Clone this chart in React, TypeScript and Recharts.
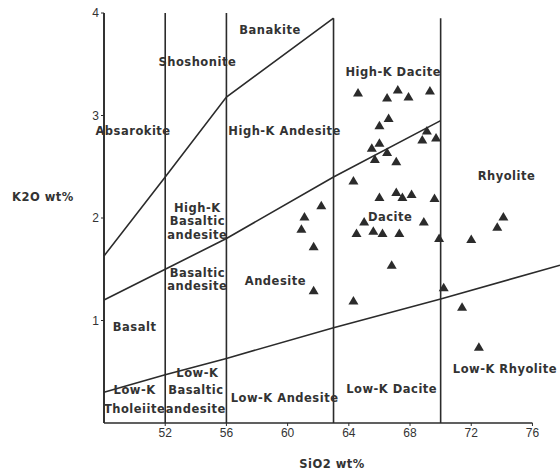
import { ComposedChart, Line, Scatter, XAxis, YAxis } from "recharts";

// axis ticks
const silicaTicks = [52, 56, 60, 64, 68, 72, 76];
const potashTicks = [1, 2, 3, 4];

// field boundaries (SiO2, K2O)
const shoshoniteLine = [
  { x: 48, y: 1.63 },
  { x: 52, y: 2.4 },
  { x: 56, y: 3.18 },
  { x: 63, y: 3.95 },
];
const highKLine = [
  { x: 48, y: 1.2 },
  { x: 52, y: 1.5 },
  { x: 56, y: 1.8 },
  { x: 63, y: 2.4 },
  { x: 70, y: 2.95 },
];
const lowKLine = [
  { x: 48, y: 0.3 },
  { x: 52, y: 0.47 },
  { x: 56, y: 0.63 },
  { x: 63, y: 0.93 },
  { x: 70, y: 1.21 },
  { x: 77.8, y: 1.54 },
];
const dividerSilica = [48, 52, 56, 63, 70];
const dividerTop = [4, 4, 4, 3.95, 3.95];
const baseLine = [
  { x: 48, y: 0 },
  { x: 76, y: 0 },
];

// samples
const samples = [
  { x: 64.6, y: 3.22 }, { x: 66.5, y: 3.17 }, { x: 67.2, y: 3.25 }, { x: 67.9, y: 3.18 },
  { x: 69.3, y: 3.24 }, { x: 66.0, y: 2.9 }, { x: 66.6, y: 2.97 }, { x: 65.5, y: 2.68 },
  { x: 66.0, y: 2.73 }, { x: 65.7, y: 2.57 }, { x: 66.5, y: 2.64 }, { x: 67.1, y: 2.55 },
  { x: 68.8, y: 2.76 }, { x: 69.1, y: 2.85 }, { x: 69.7, y: 2.78 }, { x: 64.3, y: 2.36 },
  { x: 66.0, y: 2.2 }, { x: 67.1, y: 2.25 }, { x: 67.5, y: 2.2 }, { x: 68.1, y: 2.23 },
  { x: 69.6, y: 2.19 }, { x: 62.2, y: 2.12 }, { x: 61.1, y: 2.01 }, { x: 60.9, y: 1.89 },
  { x: 61.7, y: 1.72 }, { x: 65.0, y: 1.96 }, { x: 64.5, y: 1.85 }, { x: 65.6, y: 1.87 },
  { x: 66.2, y: 1.85 }, { x: 67.3, y: 1.85 }, { x: 68.9, y: 1.96 }, { x: 69.9, y: 1.8 },
  { x: 66.8, y: 1.54 }, { x: 61.7, y: 1.29 }, { x: 70.2, y: 1.32 }, { x: 64.3, y: 1.19 },
  { x: 71.4, y: 1.13 }, { x: 74.1, y: 2.01 }, { x: 73.7, y: 1.91 }, { x: 72.0, y: 1.79 },
  { x: 72.5, y: 0.74 },
];

// field names
const fieldNames = [
  { name: "Banakite", x: 58.85, y: 3.83 },
  { name: "Shoshonite", x: 54.1, y: 3.52 },
  { name: "Absarokite", x: 49.9, y: 2.85 },
  { name: "High-K Andesite", x: 59.8, y: 2.85 },
  { name: "High-K Dacite", x: 66.9, y: 3.42 },
  { name: "Rhyolite", x: 74.3, y: 2.41 },
  { name: "High-K\nBasaltic\nandesite", x: 54.1, y: 1.97 },
  { name: "Basaltic\nandesite", x: 54.1, y: 1.4 },
  { name: "Andesite", x: 59.2, y: 1.39 },
  { name: "Dacite", x: 66.7, y: 2.01 },
  { name: "Basalt", x: 50.0, y: 0.94 },
  { name: "Low-K", x: 54.1, y: 0.49 },
  { name: "Low-K", x: 50.0, y: 0.32 },
  { name: "Basaltic", x: 54.0, y: 0.32 },
  { name: "Tholeiite", x: 50.0, y: 0.14 },
  { name: "andesite", x: 54.0, y: 0.14 },
  { name: "Low-K Andesite", x: 59.8, y: 0.24 },
  { name: "Low-K Dacite", x: 66.8, y: 0.33 },
  { name: "Low-K Rhyolite", x: 74.2, y: 0.53 },
];

const ink = "#2b2b2b";
const textInk = "#333";
const labelFont = "'DejaVu Sans', sans-serif";

function Triangle(props: any) {
  const { cx, cy } = props;
  if (cx == null || cy == null) return null;
  return (
    <polygon
      points={`${cx},${cy - 5} ${cx - 5},${cy + 3.5} ${cx + 5},${cy + 3.5}`}
      fill={ink}
    />
  );
}

function FieldName(props: any) {
  const { cx, cy, payload } = props;
  const lines: string[] = payload.name.split("\n");
  const lh = 13.5;
  const start = cy - ((lines.length - 1) * lh) / 2;
  return (
    <text
      x={cx}
      textAnchor="middle"
      dominantBaseline="central"
      fontFamily={labelFont}
      fontWeight="bold"
      letterSpacing={0.5}
      fontSize={11.5}
      fill={textInk}
    >
      {lines.map((l, i) => (
        <tspan key={i} x={cx} y={start + i * lh}>
          {l}
        </tspan>
      ))}
    </text>
  );
}

export default function App() {
  const dividers = dividerSilica.map((s, i) => [
    { x: s, y: 0 },
    { x: s, y: dividerTop[i] },
  ]);
  const lineProps = {
    type: "linear" as const,
    dataKey: "y",
    stroke: ink,
    strokeWidth: 1.6,
    dot: false,
    activeDot: false,
    isAnimationActive: false,
  };

  return (
    <div style={{ position: "absolute", left: 0, top: 0, background: "#fff" }}>
      <ComposedChart
        width={560}
        height={473}
        margin={{ top: 13, right: 0, bottom: 0, left: 0 }}
      >
        <XAxis
          type="number"
          dataKey="x"
          domain={[48, 77.8]}
          ticks={silicaTicks}
          axisLine={false}
          tickLine={{ stroke: ink }}
          tickSize={3}
          height={50}
          tick={{ fill: textInk, fontSize: 12, fontFamily: "'Liberation Sans', Arial, sans-serif" }}
          label={{
            value: "SiO2 wt%",
            position: "insideBottom",
            offset: 5,
            fill: textInk,
            fontSize: 11.5,
            fontWeight: "bold",
            letterSpacing: 0.5,
            fontFamily: labelFont,
          }}
        />
        <YAxis
          type="number"
          domain={[0, 4]}
          ticks={potashTicks}
          width={104}
          axisLine={{ stroke: ink, strokeWidth: 1.6 }}
          tickLine={{ stroke: ink }}
          tickSize={3}
          tick={{ fill: textInk, fontSize: 12, fontFamily: "'Liberation Sans', Arial, sans-serif" }}
          label={{
            value: "K2O wt%",
            position: "insideLeft",
            offset: 12,
            dy: -21,
            fill: textInk,
            fontSize: 11.5,
            fontWeight: "bold",
            letterSpacing: 0.5,
            fontFamily: labelFont,
          }}
        />
        {dividers.map((d, i) => (
          <Line key={"div" + i} data={d} {...lineProps} />
        ))}
        <Line data={baseLine} {...lineProps} />
        <Line data={shoshoniteLine} {...lineProps} />
        <Line data={highKLine} {...lineProps} />
        <Line data={lowKLine} {...lineProps} />
        <Scatter data={fieldNames} dataKey="y" shape={FieldName} isAnimationActive={false} />
        <Scatter data={samples} dataKey="y" shape={Triangle} isAnimationActive={false} />
      </ComposedChart>
    </div>
  );
}
